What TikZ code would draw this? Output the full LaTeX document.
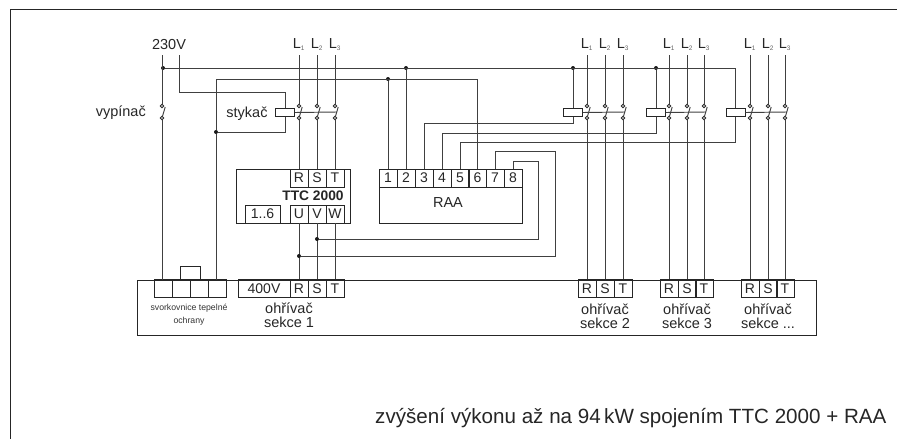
\documentclass[tikz,border=0pt]{standalone}
\usepackage{fontspec}
\setmainfont{Liberation Sans}
\usepackage{tikz}

\tikzset{
    wire/.style={line width=0.95pt, draw=black!75},
    outline/.style={shape=rectangle, draw=black!85, line width=0.95pt, inner sep=0},
    pinbox/.style={outline, minimum width=18, minimum height=18, font=\fontsize{14}{14}\selectfont, text=black!85},
    coilbox/.style={outline, fill=white, minimum width=19, minimum height=7.5},
    contact/.style={shape=circle, draw=black!85, fill=white, line width=0.8pt, minimum size=3.5, inner sep=0},
    junction/.style={shape=circle, fill=black!90, minimum size=4, inner sep=0},
    phase/.style={minimum height=21, inner sep=0, font=\fontsize{14.5}{14.5}\selectfont, text=black!85},
    caption/.style={align=center, font=\fontsize{14.5}{14}\selectfont, text=black!85}
}
\newcommand{\pole}[2]{
    \node[contact] (#1t) at (#2, 106) {};
    \node[contact] (#1b) at (#2, 118) {};
    \coordinate (#1e) at (#2+3.2, 107);
    \coordinate (#1m) at (#2+2, 112);
    \draw[wire] (#1b) -- (#1e);
}
\newcommand{\phasetag}[1]{L\textsubscript{\fontsize{6.5}{6.5}\selectfont\color{black!60} #1}}

\begin{document}
\begin{tikzpicture}[x=1pt, y=-1pt]
    \useasboundingbox (0, 0) rectangle (897, 439);
    \coordinate (frameA) at (10, 439);
    \coordinate (frameB) at (10, 9);
    \coordinate (frameC) at (897, 9);
    \draw[line width=1pt, draw=black!85] (frameA) -- (frameB) -- (frameC);

    % supply
    \node[phase] (mains) at (169, 44.5) {230V};
    \node[phase, anchor=east] (breakerlabel) at (146, 112.5) {vypínač};
    \node[caption] (contactorlabel) at (247, 113.5) {stykač};
    \node[contact] (breakert) at (162, 106) {};
    \node[contact] (breakerb) at (162, 118) {};
    \coordinate (breakere) at (165.2, 107);
    \draw[wire] (breakerb) -- (breakere);

    % heater block
    \node[outline, minimum width=679, minimum height=55] (heater) at (476.5, 307.5) {};
    \node[pinbox] (termA) at (163.5, 288.5) {};
    \node[pinbox] (termB) at (181, 288.5) {};
    \node[pinbox] (termC) at (199, 288.5) {};
    \node[pinbox] (termD) at (217, 288.5) {};
    \node[pinbox, minimum width=20, minimum height=14] (termcap) at (190, 273) {};
    \node[align=center, font=\fontsize{8.7}{13}\selectfont, text=black!80] (termlabel) at (189, 314.5) {svorkovnice tepelné\\ochrany};

    \node[pinbox, minimum width=52] (volt) at (264, 288.5) {400V};
    \node[pinbox] (hR1) at (299, 288.5) {R};
    \node[pinbox] (hS1) at (317, 288.5) {S};
    \node[pinbox] (hT1) at (335, 288.5) {T};
    \node[caption] (sect1) at (289, 315) {ohřívač\\sekce 1};

    \node[pinbox] (hR2) at (587, 288.5) {R};
    \node[pinbox] (hS2) at (605, 288.5) {S};
    \node[pinbox] (hT2) at (623, 288.5) {T};
    \node[caption] (sect2) at (605, 316) {ohřívač\\sekce 2};

    \node[pinbox] (hR3) at (669, 288.5) {R};
    \node[pinbox] (hS3) at (687, 288.5) {S};
    \node[pinbox] (hT3) at (704, 288.5) {T};
    \node[caption] (sect3) at (687, 316) {ohřívač\\sekce 3};

    \node[pinbox] (hR4) at (750, 288.5) {R};
    \node[pinbox] (hS4) at (768, 288.5) {S};
    \node[pinbox] (hT4) at (785, 288.5) {T};
    \node[caption] (sect4) at (768, 316) {ohřívač\\sekce ...};

    % TTC 2000
    \node[outline, minimum width=114, minimum height=54] (ttc) at (293, 196) {};
    \node[pinbox] (ttcR) at (299, 178) {R};
    \node[pinbox] (ttcS) at (317, 178) {S};
    \node[pinbox] (ttcT) at (335, 178) {T};
    \node[font=\fontsize{13.8}{13.8}\selectfont\bfseries, text=black!85] (ttclabel) at (313, 196) {TTC 2000};
    \node[pinbox, minimum width=35] (ttcin) at (262.5, 214) {1..6};
    \node[pinbox] (ttcU) at (299, 214) {U};
    \node[pinbox] (ttcV) at (317, 214) {V};
    \node[pinbox] (ttcW) at (335, 214) {W};

    % RAA
    \node[outline, minimum width=143, minimum height=54] (raa) at (450.5, 196) {};
    \node[pinbox] (raaA) at (388, 178) {1};
    \node[pinbox] (raaB) at (406, 178) {2};
    \node[pinbox] (raaC) at (424, 178) {3};
    \node[pinbox] (raaD) at (442, 178) {4};
    \node[pinbox] (raaE) at (460, 178) {5};
    \node[pinbox] (raaF) at (477.5, 178) {6};
    \node[pinbox] (raaG) at (495, 178) {7};
    \node[pinbox] (raaH) at (513, 178) {8};
    \node[caption] (raalabel) at (448, 203) {RAA};

    % contactors
    \node[coilbox] (coilA) at (285, 112.5) {};
    \node[coilbox] (coilB) at (573, 112.5) {};
    \node[coilbox] (coilC) at (656, 112.5) {};
    \node[coilbox] (coilD) at (735.5, 112.5) {};

    \node[phase] (LA) at (299, 44.5) {\phasetag{1}};
    \node[phase] (LB) at (317, 44.5) {\phasetag{2}};
    \node[phase] (LC) at (335, 44.5) {\phasetag{3}};
    \node[phase] (LD) at (587, 44.5) {\phasetag{1}};
    \node[phase] (LE) at (605, 44.5) {\phasetag{2}};
    \node[phase] (LF) at (623, 44.5) {\phasetag{3}};
    \node[phase] (LG) at (669, 44.5) {\phasetag{1}};
    \node[phase] (LH) at (687, 44.5) {\phasetag{2}};
    \node[phase] (LI) at (704, 44.5) {\phasetag{3}};
    \node[phase] (LJ) at (750, 44.5) {\phasetag{1}};
    \node[phase] (LK) at (768, 44.5) {\phasetag{2}};
    \node[phase] (LL) at (785, 44.5) {\phasetag{3}};

    \pole{a}{299} \pole{b}{317} \pole{c}{335}
    \pole{d}{587} \pole{e}{605} \pole{f}{623}
    \pole{g}{669} \pole{h}{687} \pole{i}{704}
    \pole{j}{750} \pole{k}{768} \pole{l}{785}

    % phases through the poles
    \path[wire] (LA) edge (at);
    \path[wire] (ab) edge (ttcR.north);
    \path[wire] (LB) edge (bt);
    \path[wire] (bb) edge (ttcS.north);
    \path[wire] (LC) edge (ct);
    \path[wire] (cb) edge (ttcT.north);
    \path[wire] (ttcU) edge (hR1);
    \path[wire] (ttcV) edge (hS1);
    \path[wire] (ttcW) edge (hT1);

    \path[wire] (LD) edge (dt);
    \path[wire] (db) edge (hR2);
    \path[wire] (LE) edge (et);
    \path[wire] (eb) edge (hS2);
    \path[wire] (LF) edge (ft);
    \path[wire] (fb) edge (hT2);

    \path[wire] (LG) edge (gt);
    \path[wire] (gb) edge (hR3);
    \path[wire] (LH) edge (ht);
    \path[wire] (hb) edge (hS3);
    \path[wire] (LI) edge (it);
    \path[wire] (ib) edge (hT3);

    \path[wire] (LJ) edge (jt);
    \path[wire] (jb) edge (hR4);
    \path[wire] (LK) edge (kt);
    \path[wire] (kb) edge (hS4);
    \path[wire] (LL) edge (lt);
    \path[wire] (lb) edge (hT4);

    % coil links
    \draw[wire] (coilA.east) -- (cm);
    \draw[wire] (coilB.east) -- (fm);
    \draw[wire] (coilC.east) -- (im);
    \draw[wire] (coilD.east) -- (lm);

    % control wiring
    \node[junction] (busstart) at (163, 68) {};
    \node[junction] (busB) at (406, 68) {};
    \node[junction] (busC) at (573, 68) {};
    \node[junction] (busD) at (656, 68) {};
    \coordinate (busend) at (735.5, 68);
    \node[junction] (retstart) at (216, 132) {};
    \coordinate (rettop) at (216, 79);
    \node[junction] (retA) at (388, 79) {};
    \coordinate (retend) at (477.5, 79);
    \coordinate (livetop) at (179, 55);
    \coordinate (liveturn) at (285, 92);
    \coordinate (wireC) at (573, 123);
    \coordinate (wireD) at (656, 133);
    \coordinate (wireE) at (735.5, 142);

    \draw[wire] (mains.south -| breakert) -- (breakert);
    \draw[wire] (breakerb) -- (breakerb |- heater.north);
    \draw[wire] (busstart) -- (busend) -- (coilD.north);
    \draw[wire] (coilD.south) -- (wireE) -| (raaE.north);
    \draw[wire] (busC) -- (coilB.north);
    \draw[wire] (coilB.south) -- (wireC) -| (raaC.north);
    \draw[wire] (busD) -- (coilC.north);
    \draw[wire] (coilC.south) -- (wireD) -| (raaD.north);
    \draw[wire] (busB) -- (raaB.north);
    \draw[wire] (retA) -- (raaA.north);
    \draw[wire] (rettop) -- (retend) -- (raaF.north);
    \draw[wire] (rettop) -- (retstart) -- (retstart |- heater.north);
    \draw[wire] (livetop) |- (liveturn) -- (coilA.north);
    \draw[wire] (coilA.south) |- (retstart);

    \node[junction] (ttcVtap) at (317, 239) {};
    \node[junction] (ttcUtap) at (299, 256) {};
    \coordinate (tapVa) at (538, 239);
    \coordinate (tapVb) at (538, 161);
    \coordinate (tapUa) at (555, 256);
    \coordinate (tapUb) at (555, 151);
    \draw[wire] (ttcVtap) -- (tapVa) -- (tapVb) -| (raaH.north);
    \draw[wire] (ttcUtap) -- (tapUa) -- (tapUb) -| (raaG.north);

    \node[anchor=east, font=\fontsize{20.6}{20.6}\selectfont, text=black!85] (note) at (890, 418) {zvýšení výkonu až na 94\,kW spojením TTC 2000 + RAA};
\end{tikzpicture}
\end{document}
